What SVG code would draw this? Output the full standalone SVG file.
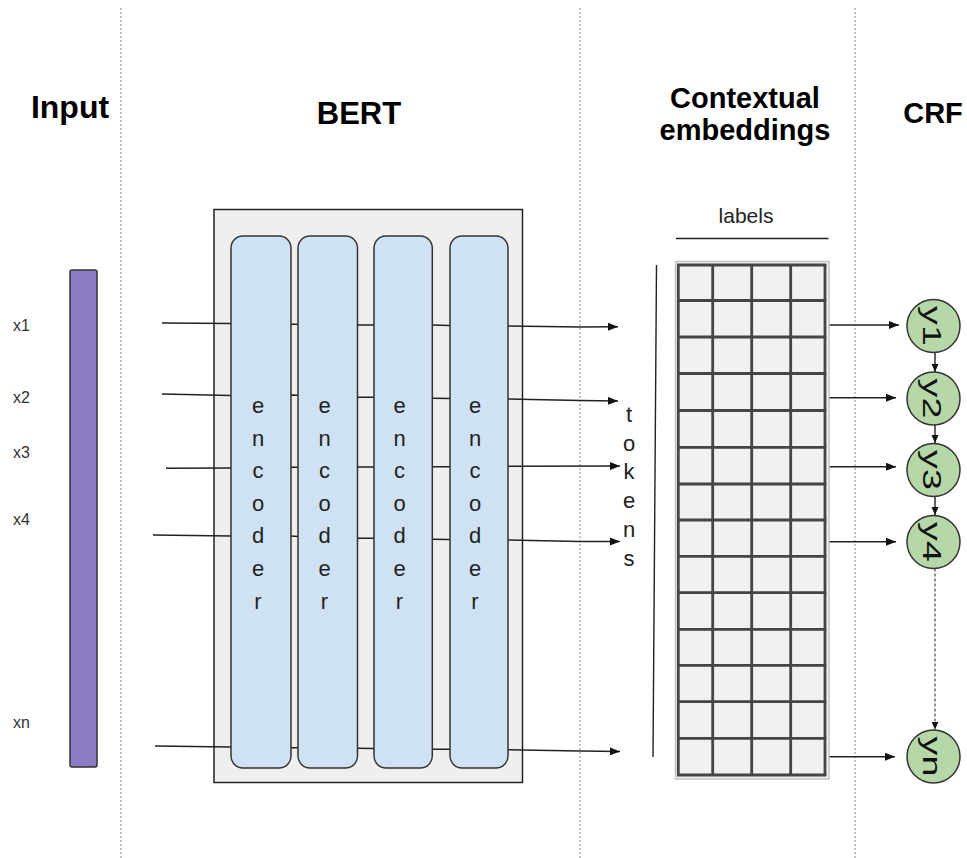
<svg xmlns="http://www.w3.org/2000/svg" width="967" height="858" viewBox="0 0 967 858">
  <style>
    .title { font-family: "Liberation Sans", Arial, sans-serif; font-weight: bold; font-size: 29px; fill: #000; text-anchor: middle; }
    .small { font-family: "Liberation Sans", Arial, sans-serif; font-size: 16px; fill: #333; }
    .letters { font-family: "Liberation Sans", Arial, sans-serif; font-size: 22px; fill: #222; text-anchor: middle; }
    .divider { stroke: #999; stroke-width: 1.2; stroke-dasharray: 2 2; fill: none; }
    .wire { stroke: #222; stroke-width: 1.4; fill: none; }
    .encoder { fill: #cfe2f3; stroke: #333; stroke-width: 1.5; }
    .node { fill: #b6d7a8; stroke: #333; stroke-width: 1.5; }
    .ylabel { font-family: "Liberation Sans", Arial, sans-serif; font-size: 26px; fill: #111; text-anchor: middle; }
    .gridline { stroke: #444; stroke-width: 2.8; fill: none; }
  </style>
  <defs>
    <marker id="arrow" markerUnits="userSpaceOnUse" markerWidth="10" markerHeight="8" refX="10" refY="4" orient="auto">
      <path d="M0,0 L10,4 L0,8 z" fill="#111"/>
    </marker>
    <marker id="arrow-sm" markerUnits="userSpaceOnUse" markerWidth="8" markerHeight="8" refX="8" refY="4" orient="auto">
      <path d="M0,0.5 L8,4 L0,7.5 z" fill="#111"/>
    </marker>
    <filter id="soft" x="-5%" y="-5%" width="110%" height="110%">
      <feGaussianBlur stdDeviation="0.7"/>
    </filter>
  </defs>

  <rect width="967" height="858" fill="#fff"/>

  <!-- column separators -->
  <g id="dividers">
    <line class="divider" x1="121" y1="8" x2="121" y2="858"/>
    <line class="divider" x1="580" y1="8" x2="580" y2="858"/>
    <line class="divider" x1="855" y1="8" x2="855" y2="858"/>
  </g>

  <!-- column headings -->
  <g id="titles">
    <text class="title" x="70" y="118" style="font-size:32px">Input</text>
    <text class="title" x="359" y="124" style="font-size:31px">BERT</text>
    <text class="title" x="745" y="108">Contextual</text>
    <text class="title" x="745" y="140">embeddings</text>
    <text class="title" x="933" y="123">CRF</text>
  </g>

  <!-- input sequence -->
  <g id="input">
    <rect x="70" y="270" width="27" height="497" rx="2" fill="#8e7cc3" stroke="#333" stroke-width="1.5"/>
    <text class="small" x="13" y="331">x1</text>
    <text class="small" x="13" y="403">x2</text>
    <text class="small" x="13" y="458">x3</text>
    <text class="small" x="13" y="525">x4</text>
    <text class="small" x="13" y="728">xn</text>
  </g>

  <!-- BERT container -->
  <g id="bert">
    <rect x="214" y="209.5" width="308.5" height="573" fill="#efefef" stroke="#222" stroke-width="1.5"/>
  </g>

  <!-- token wires through the encoder stack and on to the CRF -->
  <g id="connectors">
    <polyline class="wire" marker-end="url(#arrow)" points="162,323 231,323.5 291,324.3 298,324.3 357,325 374,325 432,325 450,325.5 508,326 580,327 618,326.7"/>
    <polyline class="wire" marker-end="url(#arrow)" points="162,394 231,395.5 291,395 298,395.3 357,397.3 374,397.3 432,398.3 450,398.5 508,399 580,400.5 618,401"/>
    <polyline class="wire" marker-end="url(#arrow)" points="166,468.3 231,468 291,467.3 298,467.3 357,467 374,467 432,466.7 450,466.7 508,466.3 620,466"/>
    <polyline class="wire" marker-end="url(#arrow)" points="153,535 231,536 291,536 298,536.5 357,538.3 374,538.3 432,539.3 450,539.5 508,540 580,541.5 620,541.5"/>
    <polyline class="wire" marker-end="url(#arrow)" points="155,746 231,747 291,747.7 298,747.7 357,748.3 374,748.5 432,749.3 450,749.3 508,749.7 580,751 620,751.5"/>

    <line class="wire" x1="829" y1="325" x2="899" y2="325" marker-end="url(#arrow)"/>
    <line class="wire" x1="824" y1="397.7" x2="896" y2="397.7" marker-end="url(#arrow)"/>
    <line class="wire" x1="824" y1="466.7" x2="896" y2="466.7" marker-end="url(#arrow)"/>
    <line class="wire" x1="824" y1="541.7" x2="896" y2="541.7" marker-end="url(#arrow)"/>
    <line class="wire" x1="824" y1="756.7" x2="895" y2="756.7" marker-end="url(#arrow)"/>

    <line class="wire" x1="935" y1="352.5" x2="935" y2="372" marker-end="url(#arrow-sm)"/>
    <line class="wire" x1="935" y1="425" x2="935" y2="443" marker-end="url(#arrow-sm)"/>
    <line class="wire" x1="935" y1="496.5" x2="935" y2="515" marker-end="url(#arrow-sm)"/>
    <line x1="935" y1="568.5" x2="935" y2="729.5" stroke="#555" stroke-width="1.3" stroke-dasharray="3 2" marker-end="url(#arrow-sm)"/>
  </g>

  <!-- encoder layers -->
  <g id="encoder-1">
    <rect class="encoder" x="231" y="236" width="60" height="532" rx="12"/>
    <text class="letters"><tspan x="258" y="413">e</tspan><tspan x="258" y="445.6">n</tspan><tspan x="258" y="478.2">c</tspan><tspan x="258" y="510.8">o</tspan><tspan x="258" y="543.4">d</tspan><tspan x="258" y="576">e</tspan><tspan x="258" y="608.6">r</tspan></text>
  </g>
  <g id="encoder-2">
    <rect class="encoder" x="298" y="236" width="59.5" height="532" rx="12"/>
    <text class="letters"><tspan x="324.5" y="413">e</tspan><tspan x="324.5" y="445.6">n</tspan><tspan x="324.5" y="478.2">c</tspan><tspan x="324.5" y="510.8">o</tspan><tspan x="324.5" y="543.4">d</tspan><tspan x="324.5" y="576">e</tspan><tspan x="324.5" y="608.6">r</tspan></text>
  </g>
  <g id="encoder-3">
    <rect class="encoder" x="374" y="236" width="58.3" height="532" rx="12"/>
    <text class="letters"><tspan x="399.5" y="413">e</tspan><tspan x="399.5" y="445.6">n</tspan><tspan x="399.5" y="478.2">c</tspan><tspan x="399.5" y="510.8">o</tspan><tspan x="399.5" y="543.4">d</tspan><tspan x="399.5" y="576">e</tspan><tspan x="399.5" y="608.6">r</tspan></text>
  </g>
  <g id="encoder-4">
    <rect class="encoder" x="450" y="236" width="58" height="532" rx="12"/>
    <text class="letters"><tspan x="475" y="413">e</tspan><tspan x="475" y="445.6">n</tspan><tspan x="475" y="478.2">c</tspan><tspan x="475" y="510.8">o</tspan><tspan x="475" y="543.4">d</tspan><tspan x="475" y="576">e</tspan><tspan x="475" y="608.6">r</tspan></text>
  </g>

  <!-- token axis -->
  <g id="tokens">
    <text class="letters"><tspan x="629" y="422">t</tspan><tspan x="629" y="450.7">o</tspan><tspan x="629" y="479.4">k</tspan><tspan x="629" y="508.1">e</tspan><tspan x="629" y="536.8">n</tspan><tspan x="629" y="565.5">s</tspan></text>
    <line class="wire" x1="656.5" y1="265" x2="653" y2="757"/>
  </g>

  <!-- embedding matrix: 14 tokens x 4 labels -->
  <g id="embeddings">
    <text class="letters" x="746" y="223" style="font-size:21px">labels</text>
    <line class="wire" x1="676" y1="238.5" x2="828.5" y2="238.5"/>
    <rect x="675.5" y="261.5" width="153.5" height="517.5" fill="#f1f1f1" stroke="#c4c4c4" stroke-width="1.5"/>
    <g class="gridline" filter="url(#soft)">
      <line x1="678.3" y1="264" x2="678.3" y2="776"/>
      <line x1="712.7" y1="264" x2="712.7" y2="776"/>
      <line x1="751.7" y1="264" x2="751.7" y2="776"/>
      <line x1="790.7" y1="264" x2="790.7" y2="776"/>
      <line x1="825" y1="264" x2="825" y2="776"/>
      <line x1="677" y1="265" x2="826.3" y2="265"/>
      <line x1="677" y1="300.5" x2="826.3" y2="300.5"/>
      <line x1="677" y1="337" x2="826.3" y2="337"/>
      <line x1="677" y1="373.5" x2="826.3" y2="373.5"/>
      <line x1="677" y1="410.5" x2="826.3" y2="410.5"/>
      <line x1="677" y1="447.3" x2="826.3" y2="447.3"/>
      <line x1="677" y1="484" x2="826.3" y2="484"/>
      <line x1="677" y1="520" x2="826.3" y2="520"/>
      <line x1="677" y1="556.3" x2="826.3" y2="556.3"/>
      <line x1="677" y1="592.7" x2="826.3" y2="592.7"/>
      <line x1="677" y1="629.3" x2="826.3" y2="629.3"/>
      <line x1="677" y1="665.3" x2="826.3" y2="665.3"/>
      <line x1="677" y1="701.7" x2="826.3" y2="701.7"/>
      <line x1="677" y1="738.3" x2="826.3" y2="738.3"/>
      <line x1="677" y1="775" x2="826.3" y2="775"/>
    </g>
  </g>

  <!-- CRF label nodes -->
  <g id="crf-y1">
    <circle class="node" cx="933.5" cy="326" r="26.5"/>
    <text class="ylabel" transform="translate(933.5 326) rotate(90) scale(1.45 1)" x="0" y="10">y1</text>
  </g>
  <g id="crf-y2">
    <circle class="node" cx="933.5" cy="398.5" r="26.5"/>
    <text class="ylabel" transform="translate(933.5 398.5) rotate(90) scale(1.45 1)" x="0" y="10">y2</text>
  </g>
  <g id="crf-y3">
    <circle class="node" cx="933.5" cy="470" r="26.5"/>
    <text class="ylabel" transform="translate(933.5 470) rotate(90) scale(1.45 1)" x="0" y="10">y3</text>
  </g>
  <g id="crf-y4">
    <circle class="node" cx="933.5" cy="542" r="26.5"/>
    <text class="ylabel" transform="translate(933.5 542) rotate(90) scale(1.45 1)" x="0" y="10">y4</text>
  </g>
  <g id="crf-yn">
    <circle class="node" cx="933.5" cy="756.5" r="26.5"/>
    <text class="ylabel" transform="translate(933.5 756.5) rotate(90) scale(1.45 1)" x="0" y="10">yn</text>
  </g>
</svg>
